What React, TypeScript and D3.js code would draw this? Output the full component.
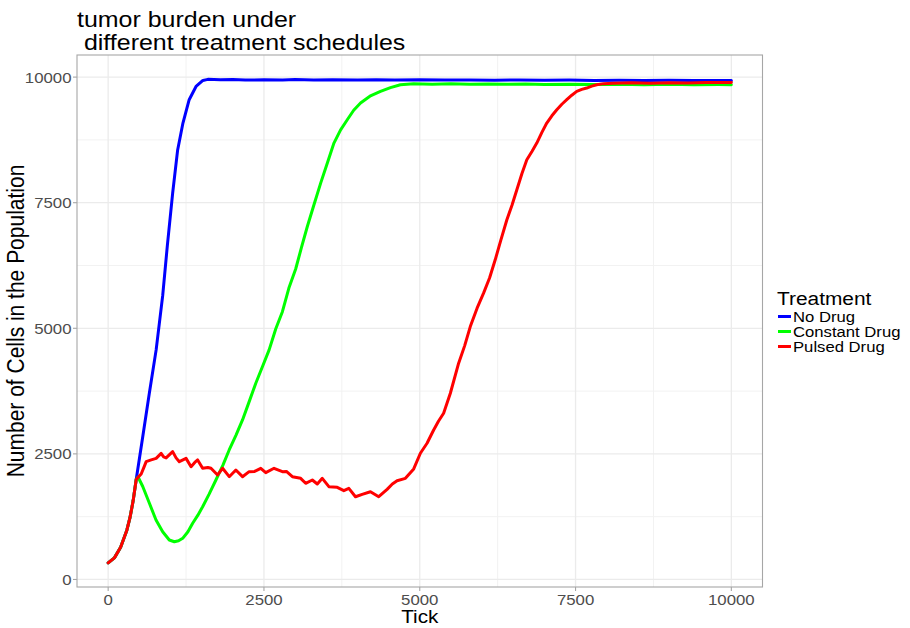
import React from "react";
import * as d3 from "d3";

const xTicks = [0, 2500, 5000, 7500, 10000];
const yTicks = [0, 2500, 5000, 7500, 10000];
const xMinor = [1250, 3750, 6250, 8750];
const yMinor = [1250, 3750, 6250, 8750];

const seriesNames = ["No Drug", "Constant Drug", "Pulsed Drug"];
const seriesColors = ["#0000FF", "#00FF00", "#FF0000"];

const noDrugTick = [0, 100, 200, 300, 350, 400, 450, 555, 660, 770, 875, 950, 1035, 1115, 1200, 1300, 1410, 1520, 1600, 1800, 2000, 2200, 2500, 2800, 3000, 3300, 3600, 4000, 4300, 4600, 5000, 5400, 5800, 6200, 6600, 7000, 7400, 7800, 8200, 8600, 9000, 9400, 9800, 10000];
const noDrugVal = [330, 430, 640, 980, 1230, 1560, 1990, 2840, 3700, 4570, 5650, 6650, 7690, 8550, 9085, 9550, 9814, 9934, 9955, 9945, 9952, 9940, 9948, 9942, 9950, 9944, 9948, 9940, 9946, 9942, 9948, 9940, 9944, 9938, 9942, 9936, 9940, 9934, 9938, 9932, 9936, 9930, 9934, 9930];

const constTick = [0, 100, 200, 300, 350, 400, 450, 480, 555, 662, 768, 875, 981, 1062, 1130, 1196, 1280, 1356, 1440, 1516, 1620, 1729, 1840, 1942, 2050, 2156, 2260, 2369, 2480, 2583, 2690, 2796, 2900, 3009, 3100, 3196, 3300, 3410, 3520, 3623, 3730, 3837, 3940, 4050, 4200, 4370, 4530, 4690, 4903, 5200, 5500, 5800, 6100, 6400, 6700, 7000, 7400, 7800, 8200, 8600, 9000, 9400, 9800, 10000];
const constVal = [330, 430, 640, 980, 1230, 1560, 1990, 2040, 1850, 1516, 1183, 950, 785, 750, 770, 819, 950, 1118, 1280, 1448, 1700, 1980, 2270, 2578, 2870, 3175, 3530, 3906, 4250, 4570, 4990, 5330, 5800, 6180, 6600, 7026, 7450, 7890, 8300, 8687, 8950, 9151, 9340, 9484, 9620, 9715, 9790, 9849, 9870, 9860, 9866, 9856, 9864, 9858, 9862, 9854, 9860, 9852, 9858, 9850, 9856, 9848, 9852, 9850];

const pulsedTick = [0, 100, 200, 300, 350, 400, 450, 500, 530, 580, 610, 690, 770, 850, 890, 930, 980, 1035, 1090, 1142, 1200, 1250, 1330, 1390, 1436, 1516, 1600, 1650, 1756, 1836, 1943, 2049, 2156, 2262, 2350, 2449, 2529, 2662, 2796, 2860, 2956, 3089, 3169, 3276, 3356, 3436, 3542, 3676, 3782, 3862, 3969, 4076, 4209, 4342, 4476, 4560, 4636, 4770, 4903, 5010, 5117, 5223, 5300, 5383, 5491, 5624, 5720, 5811, 5920, 6024, 6120, 6211, 6300, 6398, 6480, 6558, 6640, 6718, 6800, 6878, 6960, 7038, 7120, 7199, 7280, 7359, 7440, 7519, 7600, 7679, 7760, 7839, 7950, 8100, 8400, 8700, 9000, 9300, 9600, 10000];
const pulsedVal = [330, 430, 640, 980, 1230, 1560, 1990, 2060, 2100, 2250, 2345, 2380, 2410, 2510, 2440, 2420, 2480, 2545, 2420, 2345, 2380, 2410, 2245, 2330, 2380, 2213, 2230, 2213, 2080, 2213, 2046, 2179, 2046, 2146, 2150, 2213, 2126, 2213, 2146, 2150, 2046, 2013, 1914, 1980, 1900, 2013, 1847, 1834, 1767, 1814, 1647, 1695, 1747, 1647, 1794, 1900, 1966, 2013, 2200, 2512, 2711, 2976, 3150, 3309, 3707, 4305, 4650, 5034, 5400, 5699, 6000, 6363, 6750, 7160, 7450, 7757, 8080, 8355, 8520, 8687, 8900, 9085, 9230, 9351, 9460, 9550, 9640, 9715, 9755, 9782, 9820, 9849, 9870, 9880, 9890, 9880, 9888, 9884, 9892, 9895];

const seriesTicks = [noDrugTick, constTick, pulsedTick];
const seriesVals = [noDrugVal, constVal, pulsedVal];

const W = 910;
const H = 628;
const P = { left: 77, right: 762.5, top: 55, bottom: 587 };
const SX = 1.12;
const FONT = "'Liberation Sans', Arial, Helvetica, sans-serif";

export default function App() {
  const x = d3.scaleLinear().domain([-500, 10500]).range([P.left, P.right]);
  const y = d3.scaleLinear().domain([-150, 10440]).range([P.bottom, P.top]);
  const line = d3
    .line<[number, number]>()
    .x((d) => x(d[0]))
    .y((d) => y(d[1]));

  const txt = (
    tx: number,
    ty: number,
    s: string,
    size: number,
    opts: { anchor?: string; fill?: string; rot?: boolean; sx?: number } = {}
  ) => (
    <text
      transform={`translate(${tx},${ty}) scale(${opts.sx ?? SX},1)${opts.rot ? " rotate(-90)" : ""}`}
      fontSize={size}
      fontFamily={FONT}
      textAnchor={opts.anchor ?? "start"}
      fill={opts.fill ?? "#000"}
      style={{ whiteSpace: "pre" }}
      xmlSpace="preserve"
    >
      {s}
    </text>
  );

  return (
    <svg
      width={W}
      height={H}
      style={{ position: "absolute", left: 0, top: 0, background: "#fff" }}
    >
      <rect x={0} y={0} width={W} height={H} fill="#fff" />
      {xMinor.map((t) => (
        <line key={"xm" + t} x1={x(t)} x2={x(t)} y1={P.top} y2={P.bottom} stroke="#F2F2F2" strokeWidth={1} />
      ))}
      {yMinor.map((t) => (
        <line key={"ym" + t} y1={y(t)} y2={y(t)} x1={P.left} x2={P.right} stroke="#F2F2F2" strokeWidth={1} />
      ))}
      {xTicks.map((t) => (
        <line key={"xg" + t} x1={x(t)} x2={x(t)} y1={P.top} y2={P.bottom} stroke="#EBEBEB" strokeWidth={1.3} />
      ))}
      {yTicks.map((t) => (
        <line key={"yg" + t} y1={y(t)} y2={y(t)} x1={P.left} x2={P.right} stroke="#EBEBEB" strokeWidth={1.3} />
      ))}
      {seriesNames.map((n, i) => (
        <path
          key={n}
          d={line(seriesTicks[i].map((t, j) => [t, seriesVals[i][j]] as [number, number])) || ""}
          fill="none"
          stroke={seriesColors[i]}
          strokeWidth={3}
          strokeLinejoin="round"
          strokeLinecap="round"
        />
      ))}
      <rect
        x={P.left}
        y={P.top}
        width={P.right - P.left}
        height={P.bottom - P.top}
        fill="none"
        stroke="#A6A6A6"
        strokeWidth={1.1}
      />
      {xTicks.map((t) => (
        <g key={"xt" + t}>
          <line x1={x(t)} x2={x(t)} y1={P.bottom} y2={P.bottom + 4} stroke="#A6A6A6" strokeWidth={1.1} />
          {txt(x(t), 605, String(t), 15, { anchor: "middle", fill: "#4D4D4D" })}
        </g>
      ))}
      {yTicks.map((t) => (
        <g key={"yt" + t}>
          <line x1={P.left - 4} x2={P.left} y1={y(t)} y2={y(t)} stroke="#A6A6A6" strokeWidth={1.1} />
          {txt(71.5, y(t) + 5.4, String(t), 15, { anchor: "end", fill: "#4D4D4D" })}
        </g>
      ))}
      {txt((P.left + P.right) / 2, 623, "Tick", 18.5, { anchor: "middle" })}
      {txt(24, (P.top + P.bottom) / 2, "Number of Cells in the Population", 21, { anchor: "middle", rot: true })}
      {txt(77, 27, "tumor burden under", 22.5, { sx: 1.11 })}
      {txt(77, 50, " different treatment schedules", 22.5, { sx: 1.11 })}
      {txt(777, 305, "Treatment", 18, { sx: 1.16 })}
      {seriesNames.map((n, i) => (
        <g key={"lg" + n}>
          <line
            x1={778}
            x2={791}
            y1={316.5 + i * 15}
            y2={316.5 + i * 15}
            stroke={seriesColors[i]}
            strokeWidth={3}
          />
          {txt(793, 322 + i * 15, n, 14.5, { sx: 1.15 })}
        </g>
      ))}
    </svg>
  );
}
